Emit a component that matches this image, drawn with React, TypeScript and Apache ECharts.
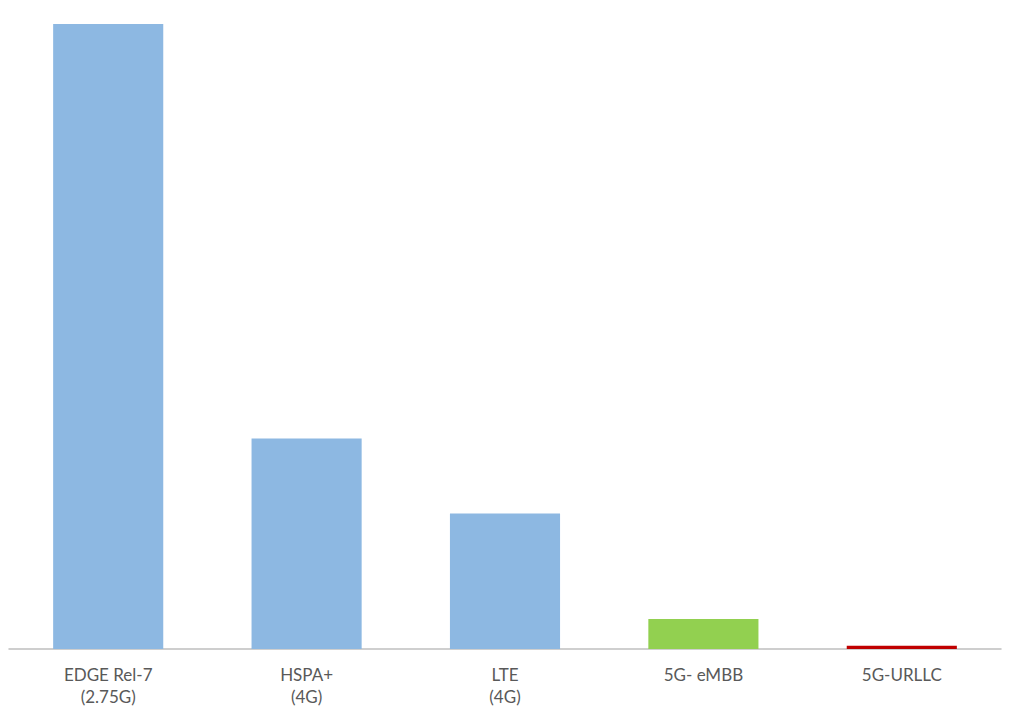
import React, { useEffect, useRef } from "react";
import * as echarts from "echarts";

const categories = ["EDGE Rel-7\n(2.75G)", "HSPA+\n(4G)", "LTE\n(4G)", "5G- eMBB", "5G-URLLC"];
const values = [300, 101, 65, 14.4, 1.6];
const barColors = ["#8DB8E2", "#8DB8E2", "#8DB8E2", "#92D050", "#C00000"];

export default function App() {
  const ref = useRef<HTMLDivElement>(null);
  useEffect(() => {
    const chart = echarts.init(ref.current!, null, { renderer: "svg" });
    chart.setOption({
      animation: false,
      grid: { left: 9, right: 23, top: 24, bottom: 65, containLabel: false },
      xAxis: {
        type: "category",
        data: categories,
        axisLine: { lineStyle: { color: "#BFBFBF", width: 1.5 } },
        axisTick: { show: false },
        axisLabel: {
          color: "#595959",
          fontSize: 17,
          fontFamily: "Lato, 'Open Sans', sans-serif",
          lineHeight: 22,
          margin: 14,
          interval: 0,
        },
      },
      yAxis: {
        type: "value",
        min: 0,
        max: 300,
        show: false,
        splitLine: { show: false },
      },
      series: [
        {
          type: "bar",
          barWidth: "55.5%",
          data: values.map((v, i) => ({ value: v, itemStyle: { color: barColors[i] } })),
        },
      ],
    });
    return () => chart.dispose();
  }, []);
  return <div ref={ref} style={{ width: 1024, height: 714, position: "absolute", left: 0, top: 0, background: "#fff" }} />;
}
